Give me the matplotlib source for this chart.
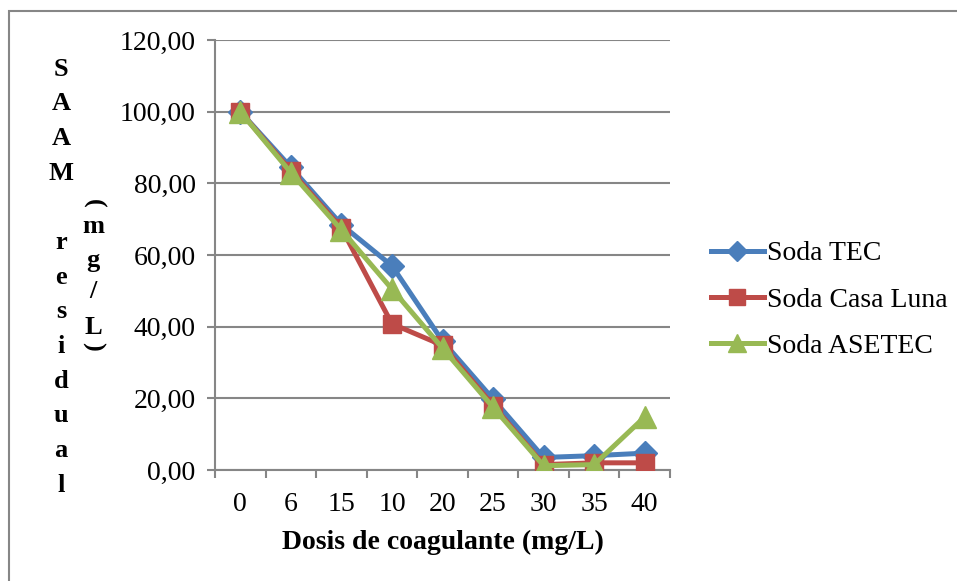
import matplotlib
matplotlib.use("Agg")
import matplotlib.pyplot as plt
from matplotlib.patches import Rectangle

categories = ["0", "6", "15", "10", "20", "25", "30", "35", "40"]
soda_tec = [100.0, 84.5, 68.5, 57.0, 36.0, 19.8, 3.5, 4.0, 4.7]
soda_casa_luna = [100.0, 83.5, 67.5, 40.8, 34.8, 18.0, 1.5, 2.0, 2.0]
soda_asetec = [100.0, 83.0, 67.0, 50.5, 34.0, 17.5, 1.2, 1.5, 14.8]
yticks = [0, 20, 40, 60, 80, 100, 120]
ytick_labels = ["0,00", "20,00", "40,00", "60,00", "80,00", "100,00", "120,00"]

W, H = 957, 581
fig = plt.figure(figsize=(W / 100, H / 100), dpi=100)
plt.rcParams['font.family'] = ['Liberation Serif', 'DejaVu Serif']

def fx(px):
    return px / W

def fy(py):
    return 1 - py / H

FS = 20

# outer chart border
fig.patches.append(Rectangle((fx(9), fy(H + 5)), fx(W + 10), fy(11) - fy(H + 5),
                             transform=fig.transFigure, fill=False,
                             edgecolor="#868686", linewidth=1.5))

left, right, top, bottom = 215, 670, 40, 470
ax = fig.add_axes([fx(left), fy(bottom), fx(right - left), fy(top) - fy(bottom)])

x = list(range(len(categories)))
grid_c = "#868686"
blue, red, green = "#4A7EBB", "#BE4B48", "#98B954"

ax.plot(x, soda_tec, color=blue, lw=3.6, marker="D", ms=12, label="Soda TEC", zorder=3)
ax.plot(x, soda_casa_luna, color=red, lw=3.6, marker="s", ms=13, label="Soda Casa Luna", zorder=4)
ax.plot(x, soda_asetec, color=green, lw=3.6, marker="^", ms=16, label="Soda ASETEC", zorder=5)

ax.set_xlim(-0.5, len(categories) - 0.5)
ax.set_ylim(0, 120)
ax.set_yticks(yticks)
ax.set_yticklabels(ytick_labels, fontsize=FS)
ax.set_xticks(x)
ax.set_xticklabels(categories, fontsize=FS)
ax.set_xticks([i - 0.5 for i in range(len(categories) + 1)], minor=True)
ax.tick_params(axis="x", which="major", length=0, pad=16)
ax.tick_params(axis="x", which="minor", length=6, width=1.5, color=grid_c, direction="out")
ax.tick_params(axis="y", length=6, width=1.5, color=grid_c, direction="out", pad=8)

ax.yaxis.grid(True, color=grid_c, linewidth=1.5)
ax.set_axisbelow(True)
for s in ["top", "right"]:
    ax.spines[s].set_visible(False)
for s in ["left", "bottom"]:
    ax.spines[s].set_color(grid_c)
    ax.spines[s].set_linewidth(1.5)

ax.set_xlabel("Dosis de coagulante (mg/L)", fontsize=FS, fontweight="bold", labelpad=9)

# stacked y label
col1 = ["S", "A", "A", "M", "", "r", "e", "s", "i", "d", "u", "a", "l"]
y0 = 69
for i, ch in enumerate(col1):
    if ch:
        fig.text(fx(61), fy(y0 + i * 34.7), ch, fontsize=19, fontweight="bold",
                 ha="center", va="center")
col2 = [("(", 203, -90), ("m", 226, 0), ("g", 260, 0), ("/", 292, 0), ("L", 328, 0), (")", 346, -90)]
for ch, yy, rot in col2:
    fig.text(fx(93), fy(yy), ch, fontsize=19, fontweight="bold",
             ha="center", va="center", rotation=rot)

leg = fig.legend(handles=ax.get_lines(), loc="center left",
                 bbox_to_anchor=(fx(711), fy(300)), frameon=False, fontsize=FS,
                 handlelength=1.9, handletextpad=0.1, labelspacing=0.75,
                 borderpad=0, borderaxespad=0, markerscale=0.85)

fig.savefig("out.png", dpi=100)
